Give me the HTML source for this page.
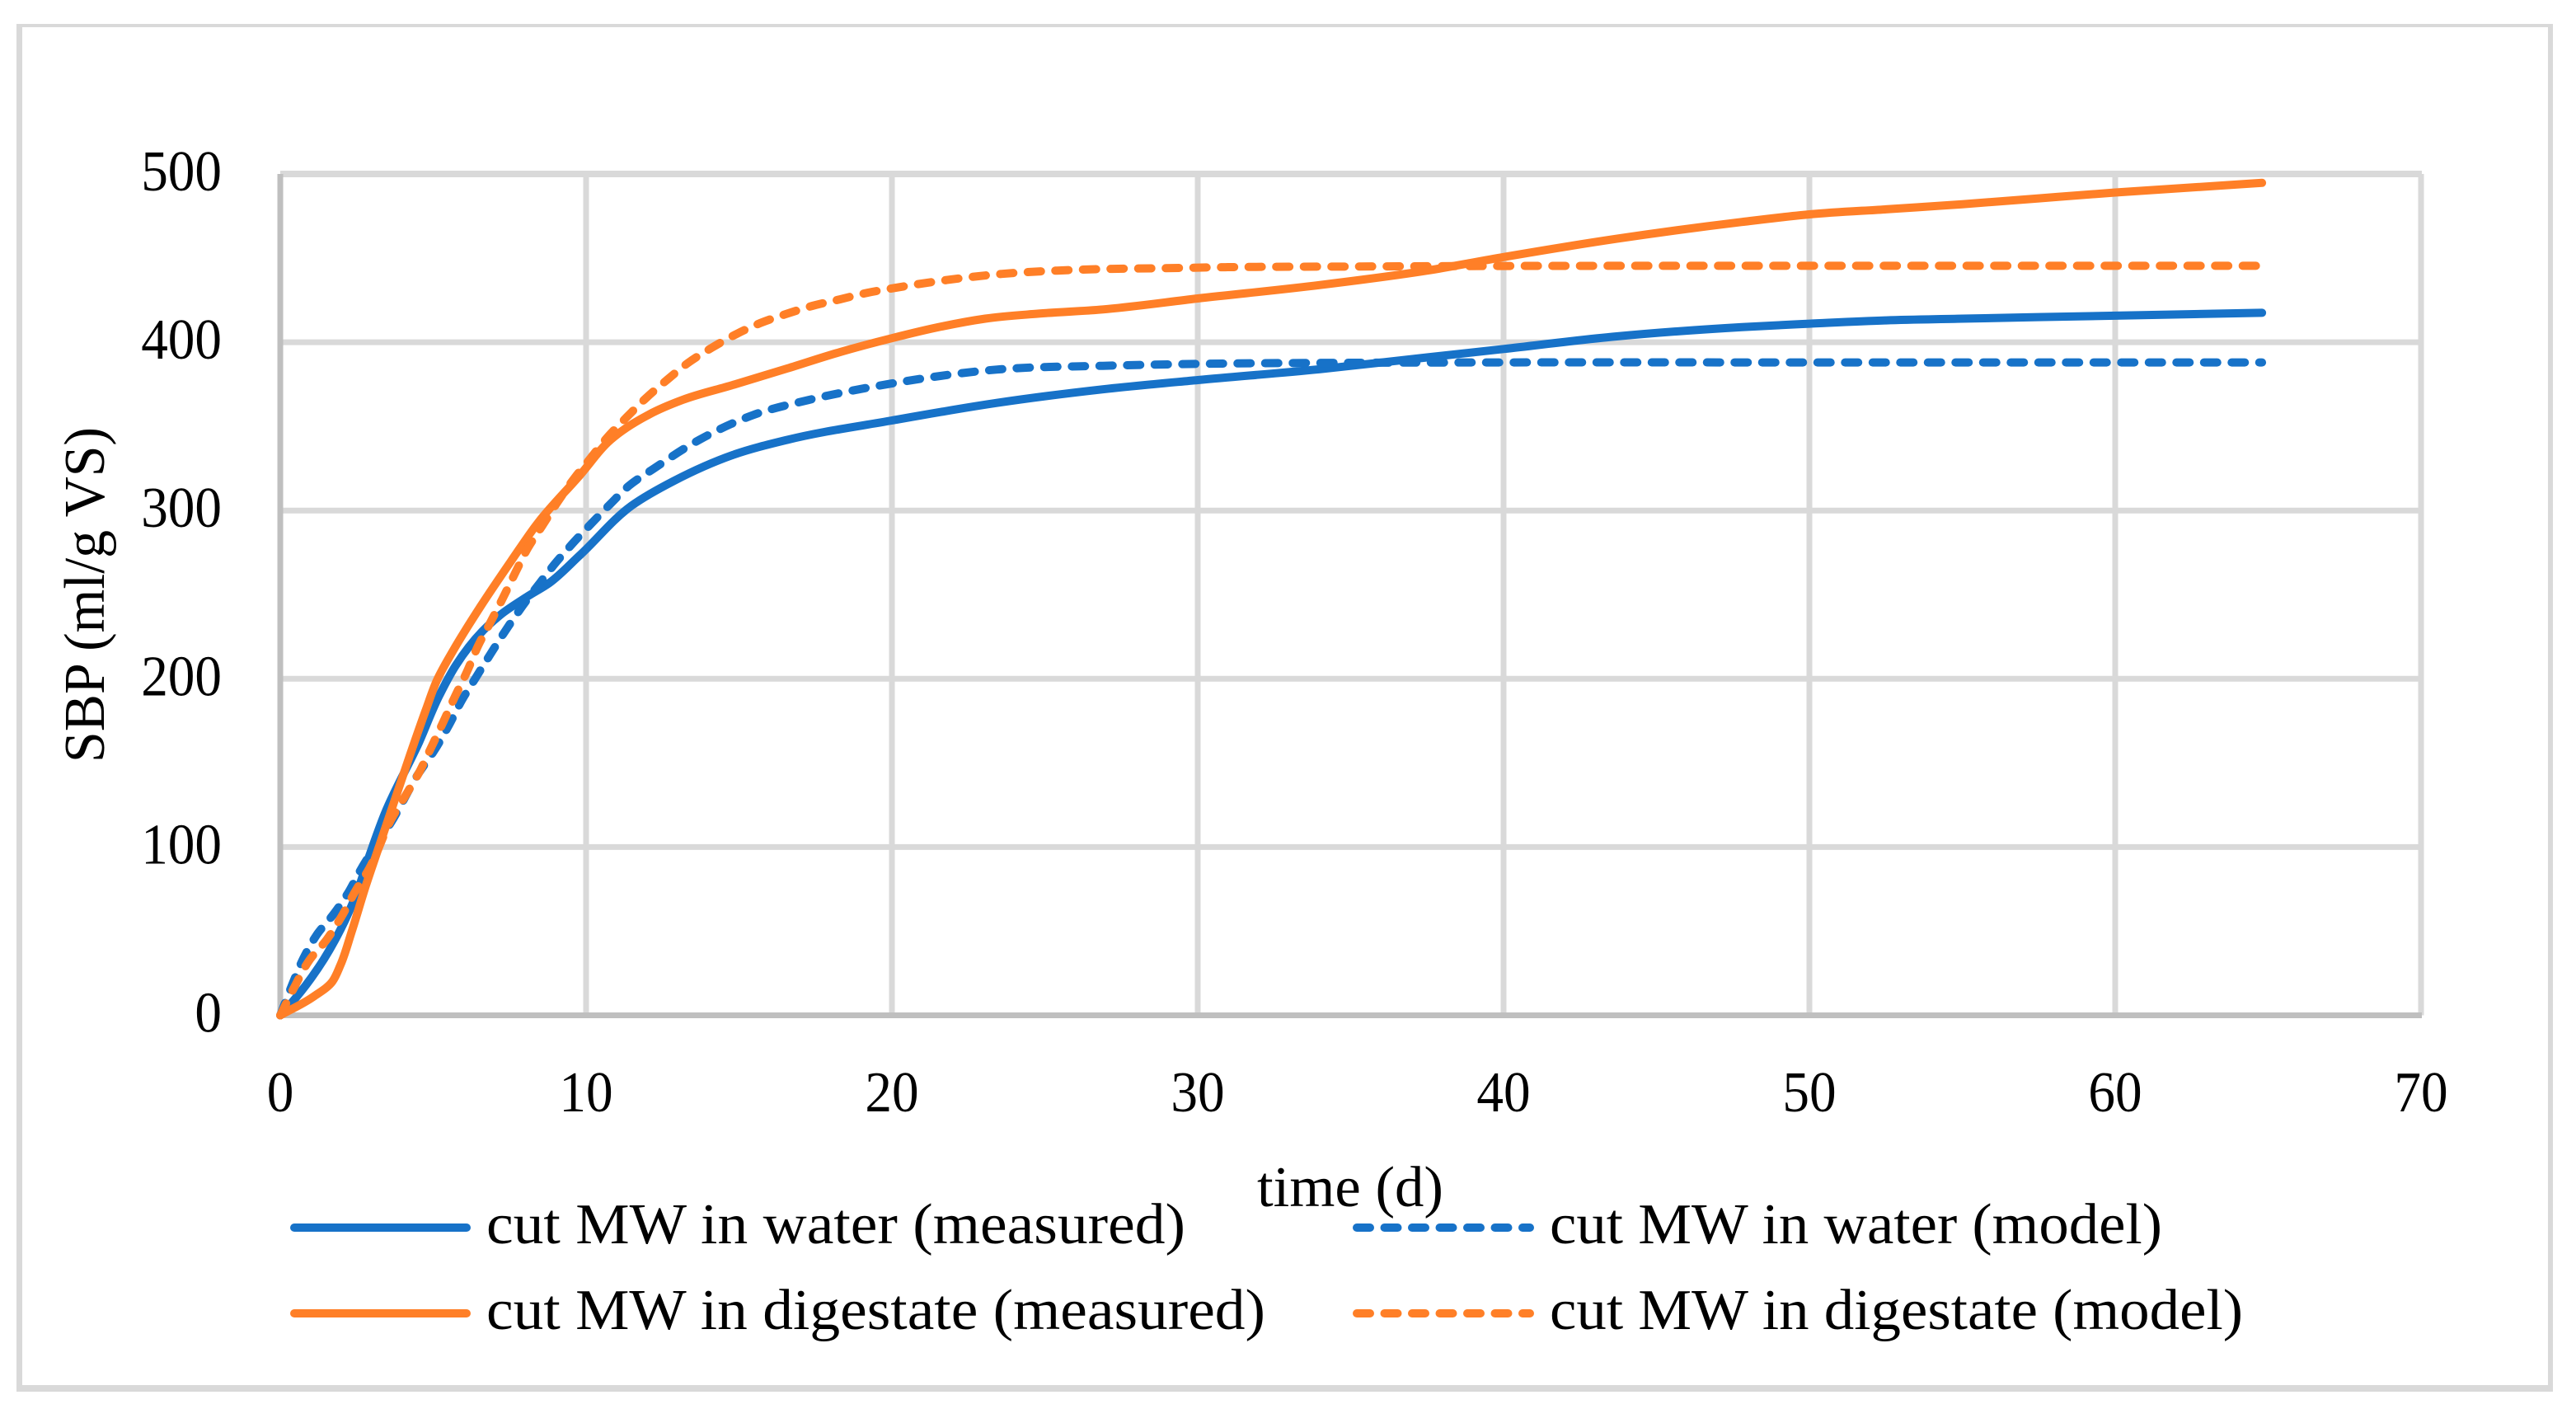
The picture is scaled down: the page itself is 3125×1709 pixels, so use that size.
<!DOCTYPE html>
<html lang="en">
<head>
<meta charset="utf-8">
<title>SBP over time</title>
<style>
html,body{margin:0;padding:0;background:#fff;}
svg{display:block;}
text{font-family:"Liberation Serif",serif;font-size:70px;fill:#000;}
</style>
</head>
<body>
<svg id="chart" xmlns="http://www.w3.org/2000/svg" width="3125" height="1709" viewBox="0 0 3125 1709">
  <rect x="0" y="0" width="3125" height="1709" fill="#ffffff"/>
  <path fill="#d9d9d9" fill-rule="evenodd" d="M20 29H3097V1688H20ZM27 33V1680H3091V33Z"/>
  <g id="grid"></g>
  <g id="ticks"></g>
  <g id="series"></g>
  <text transform="translate(126,925) rotate(-90)" textLength="407" lengthAdjust="spacingAndGlyphs">SBP (ml/g VS)</text>
  <text x="1525" y="1463" textLength="226" lengthAdjust="spacingAndGlyphs">time (d)</text>
  <g>
    <g>
      <line x1="357" y1="1489" x2="566" y2="1489" stroke="#1772c8" stroke-width="10" stroke-linecap="round"/>
      <text x="590" y="1508" textLength="848" lengthAdjust="spacingAndGlyphs">cut MW in water (measured)</text>
    </g>
    <g>
      <line x1="1646" y1="1489" x2="1856" y2="1489" stroke="#1772c8" stroke-width="10" stroke-linecap="round" stroke-dasharray="16 17.5"/>
      <text x="1880" y="1508" textLength="743" lengthAdjust="spacingAndGlyphs">cut MW in water (model)</text>
    </g>
    <g>
      <line x1="357" y1="1593" x2="566" y2="1593" stroke="#ff7f27" stroke-width="10" stroke-linecap="round"/>
      <text x="590" y="1612" textLength="945" lengthAdjust="spacingAndGlyphs">cut MW in digestate (measured)</text>
    </g>
    <g>
      <line x1="1646" y1="1593" x2="1856" y2="1593" stroke="#ff7f27" stroke-width="10" stroke-linecap="round" stroke-dasharray="16 17.5"/>
      <text x="1880" y="1612" textLength="841" lengthAdjust="spacingAndGlyphs">cut MW in digestate (model)</text>
    </g>
  </g>
</svg>
<script>
const xTickLabels = [0, 10, 20, 30, 40, 50, 60, 70];
const yTickLabels = [0, 100, 200, 300, 400, 500];

const waterMeasuredDays = [0, 0.35, 1.43, 1.97, 2.5, 2.88, 3.42, 4.53, 5.2, 5.74, 6.65, 7.2, 8.09, 8.8, 9.8, 11.5, 12.87, 14.8, 16.58, 20, 23.45, 26.9, 30, 34, 37.5, 40, 43.7, 47.8, 50, 52.5, 55, 60, 64.8];
const waterMeasuredValues = [0, 7, 33.5, 51, 72.6, 93, 120, 162, 190, 208, 229, 238, 249, 257, 273.5, 303, 317.6, 333, 342, 353.5, 364, 372, 377.5, 384, 391, 396, 403.5, 409, 411, 413, 414, 415.8, 417.5];

const waterModelDays = [0, 0.4, 0.76, 1.2, 1.78, 2.26, 2.6, 3.7, 4.53, 5.04, 5.53, 5.93, 6.39, 6.87, 7.36, 7.87, 8.49, 8.95, 9.54, 10.16, 10.8, 11.4, 12.18, 13.7, 15.47, 17.28, 20, 23.45, 26.9, 30.3, 35, 40, 50, 64.8];
const waterModelValues = [0, 18.6, 34, 48, 61, 74, 85.6, 117, 144, 157.5, 173, 187, 200.6, 214.6, 228.5, 242, 257, 267.7, 280, 292, 304, 314.7, 324.5, 342, 356.8, 365.7, 375.5, 383.8, 386, 387.2, 387.8, 388, 388, 388];

const digestateMeasuredDays = [0, 1.08, 1.7, 1.97, 2.34, 2.78, 3.3, 4.23, 4.77, 5.12, 5.66, 6.55, 7.55, 8.44, 9.8, 10.8, 12.05, 13.15, 14.8, 16.58, 18.2, 20, 21.67, 23.05, 24.8, 26.9, 30, 34, 37.5, 40, 43.7, 47.8, 50, 52.5, 55, 57.5, 60, 64.8];
const digestateMeasuredValues = [0, 11, 20, 30, 50, 76, 104, 154, 182, 199, 217, 243, 270, 293, 321, 342, 357, 365.7, 374.6, 384.4, 393.6, 402.4, 409.5, 414, 417, 419.5, 426, 434, 442.6, 450.6, 461.5, 471.5, 476, 479, 482, 485.5, 489, 494.7];

const digestateModelDays = [0, 0.49, 0.94, 1.51, 2, 2.43, 2.91, 3.64, 4.12, 4.56, 4.93, 5.34, 5.7, 6.1, 6.47, 6.87, 7.28, 7.68, 8.09, 8.57, 9.08, 9.65, 10.16, 10.7, 11.33, 11.97, 12.67, 13.34, 14.1, 14.93, 15.7, 16.58, 17.4, 18.3, 19.2, 20, 21.8, 23.6, 25.4, 27.2, 28.95, 30.9, 35, 40, 50, 64.8];
const digestateModelValues = [0, 17.8, 32.5, 44.8, 58.6, 73, 87.3, 116.8, 131.4, 145, 159, 174.7, 189, 204, 219.6, 233.5, 248, 262.8, 277.5, 291, 305.4, 320, 331.4, 343.6, 355.5, 367, 378, 387.8, 396.6, 405, 411.4, 417, 421.6, 425.5, 429.4, 432, 437, 440.6, 442.6, 443.6, 444, 444.6, 445, 445.3, 445.4, 445.4];

const NS = 'http://www.w3.org/2000/svg';
function xScale(d) { return 340 + d * (2937 - 340) / 70; }
function yScale(v) { return 1231.5 - v * (1231.5 - 211) / 500; }

function curvePath(days, values) {
  const px = days.map(xScale);
  const py = values.map(yScale);
  const n = px.length;
  const chord = [];
  for (let i = 0; i < n - 1; i++) {
    chord.push(Math.hypot(px[i + 1] - px[i], py[i + 1] - py[i]) || 1);
  }
  const tx = [];
  const ty = [];
  for (let i = 0; i < n; i++) {
    if (i === 0) {
      tx.push((px[1] - px[0]) / chord[0]);
      ty.push((py[1] - py[0]) / chord[0]);
    } else if (i === n - 1) {
      tx.push((px[i] - px[i - 1]) / chord[i - 1]);
      ty.push((py[i] - py[i - 1]) / chord[i - 1]);
    } else {
      const d0 = chord[i - 1];
      const d1 = chord[i];
      const w0 = d1 / (d0 + d1);
      const w1 = d0 / (d0 + d1);
      tx.push((px[i] - px[i - 1]) / d0 * w0 + (px[i + 1] - px[i]) / d1 * w1);
      ty.push((py[i] - py[i - 1]) / d0 * w0 + (py[i + 1] - py[i]) / d1 * w1);
    }
  }
  let d = 'M' + px[0].toFixed(1) + ' ' + py[0].toFixed(1);
  for (let i = 0; i < n - 1; i++) {
    const len = chord[i] / 3;
    d += 'C' + (px[i] + tx[i] * len).toFixed(1) + ' ' + (py[i] + ty[i] * len).toFixed(1) + ' ' +
      (px[i + 1] - tx[i + 1] * len).toFixed(1) + ' ' + (py[i + 1] - ty[i + 1] * len).toFixed(1) + ' ' +
      px[i + 1].toFixed(1) + ' ' + py[i + 1].toFixed(1);
  }
  return d;
}

const grid = document.getElementById('grid');
const ticks = document.getElementById('ticks');
const seriesGroup = document.getElementById('series');

yTickLabels.forEach(function (v) {
  const line = document.createElementNS(NS, 'line');
  
  
  line.setAttribute('x1', xScale(0));
  line.setAttribute('x2', xScale(70) + 1);
  line.setAttribute('y1', yScale(v));
  line.setAttribute('y2', yScale(v));
  line.setAttribute('stroke', '#d9d9d9');
  line.setAttribute('stroke-width', v === 500 ? 8 : 7);
  grid.appendChild(line);
});
xTickLabels.forEach(function (v) {
  if (v === 0) return;
  const line = document.createElementNS(NS, 'line');
  
  
  line.setAttribute('x1', xScale(v));
  line.setAttribute('x2', xScale(v));
  line.setAttribute('y1', yScale(500));
  line.setAttribute('y2', yScale(0));
  line.setAttribute('stroke', '#d9d9d9');
  line.setAttribute('stroke-width', 7);
  grid.appendChild(line);
});

const yAxisLine = document.createElementNS(NS, 'line');


yAxisLine.setAttribute('x1', xScale(0));
yAxisLine.setAttribute('x2', xScale(0));
yAxisLine.setAttribute('y1', yScale(500));
yAxisLine.setAttribute('y2', yScale(0) + 3.5);
yAxisLine.setAttribute('stroke', '#bfbfbf');
yAxisLine.setAttribute('stroke-width', 7);
grid.appendChild(yAxisLine);

const xAxisLine = document.createElementNS(NS, 'line');


xAxisLine.setAttribute('x1', xScale(0) - 3.5);
xAxisLine.setAttribute('x2', xScale(70) + 1);
xAxisLine.setAttribute('y1', yScale(0));
xAxisLine.setAttribute('y2', yScale(0));
xAxisLine.setAttribute('stroke', '#bfbfbf');
xAxisLine.setAttribute('stroke-width', 7);
grid.appendChild(xAxisLine);

yTickLabels.forEach(function (v) {
  const t = document.createElementNS(NS, 'text');
  
  
  t.setAttribute('x', 269);
  t.setAttribute('y', yScale(v) + 20);
  t.setAttribute('text-anchor', 'end');
  t.setAttribute('textLength', String(v).length * 32.6);
  t.setAttribute('lengthAdjust', 'spacingAndGlyphs');
  t.textContent = v;
  ticks.appendChild(t);
});
xTickLabels.forEach(function (v) {
  const t = document.createElementNS(NS, 'text');
  
  
  t.setAttribute('x', xScale(v));
  t.setAttribute('y', 1348);
  t.setAttribute('text-anchor', 'middle');
  t.setAttribute('textLength', String(v).length * 32.6);
  t.setAttribute('lengthAdjust', 'spacingAndGlyphs');
  t.textContent = v;
  ticks.appendChild(t);
});

function drawSeries(name, days, values, color, dashed) {
  const p = document.createElementNS(NS, 'path');
  
  
  p.setAttribute('d', curvePath(days, values));
  p.setAttribute('fill', 'none');
  p.setAttribute('stroke', color);
  p.setAttribute('stroke-width', 10);
  p.setAttribute('stroke-linecap', 'round');
  p.setAttribute('stroke-linejoin', 'round');
  if (dashed) p.setAttribute('stroke-dasharray', '16 17.5');
  seriesGroup.appendChild(p);
}
drawSeries('line-water-measured', waterMeasuredDays, waterMeasuredValues, '#1772c8', false);
drawSeries('line-water-model', waterModelDays, waterModelValues, '#1772c8', true);
drawSeries('line-digestate-measured', digestateMeasuredDays, digestateMeasuredValues, '#ff7f27', false);
drawSeries('line-digestate-model', digestateModelDays, digestateModelValues, '#ff7f27', true);
</script>
</body>
</html>
